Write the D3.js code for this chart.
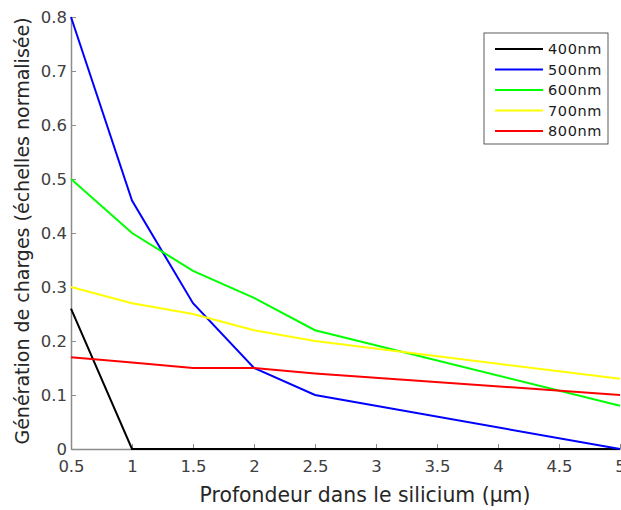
<!DOCTYPE html>
<html>
<head>
<meta charset="utf-8">
<script src="https://cdn.jsdelivr.net/npm/d3@7"></script>
<style>
  body { margin: 0; background: #fff; }
  text { font-family: "DejaVu Sans", Verdana, sans-serif; }
  .axis path, .axis line { stroke: #8c8c8c; }
  .axis text { fill: #404040; font-size: 16.5px; }
</style>
</head>
<body>
<script>
var svgWidth = 621;
var svgHeight = 510;

var margin = { top: 17, right: 1, bottom: 61, left: 71 };
var chartWidth = svgWidth - margin.left - margin.right;
var chartHeight = svgHeight - margin.top - margin.bottom;

// data
var depth = [0.5, 1, 1.5, 2, 2.5, 5];
var seriesNames = ["400nm", "500nm", "600nm", "700nm", "800nm"];
var seriesColors = ["#000000", "#0000ff", "#00ff00", "#ffff00", "#ff0000"];
var v400 = [0.26, 0, 0, 0, 0, 0];
var v500 = [0.8, 0.46, 0.27, 0.15, 0.10, 0];
var v600 = [0.5, 0.40, 0.33, 0.28, 0.22, 0.08];
var v700 = [0.30, 0.27, 0.25, 0.22, 0.20, 0.13];
var v800 = [0.17, 0.16, 0.15, 0.15, 0.14, 0.10];
var xTicks = [0.5, 1, 1.5, 2, 2.5, 3, 3.5, 4, 4.5, 5];
var yTicks = [0, 0.1, 0.2, 0.3, 0.4, 0.5, 0.6, 0.7, 0.8];

var allValues = [v400, v500, v600, v700, v800];

var svg = d3.select("body")
    .append("svg")
    .attr("width", svgWidth)
    .attr("height", svgHeight);

var chartGroup = svg.append("g")
    .attr("transform", `translate(${margin.left}, ${margin.top})`);

var xScale = d3.scaleLinear().domain([0.5, 5]).range([0, chartWidth]);
var yScale = d3.scaleLinear().domain([0, 0.8]).range([chartHeight, 0]);

var bottomAxis = d3.axisBottom(xScale)
    .tickValues(xTicks)
    .tickSizeInner(-5).tickSizeOuter(0).tickPadding(11)
    .tickFormat(d3.format("~g"));
var leftAxis = d3.axisLeft(yScale)
    .tickValues(yTicks)
    .tickSizeInner(-5).tickSizeOuter(0).tickPadding(4)
    .tickFormat(d3.format("~g"));

chartGroup.append("g")
    .classed("axis", true)
    .attr("transform", `translate(0, ${chartHeight})`)
    .call(bottomAxis)
    .call(g => g.select(".domain").attr("stroke-width", 1.5));

chartGroup.append("g")
    .classed("axis", true)
    .call(leftAxis)
    .call(g => g.select(".domain").attr("stroke-width", 1.5));

var line = d3.line()
    .x((d, i) => xScale(depth[i]))
    .y(d => yScale(d));

allValues.forEach(function(vals, k) {
    chartGroup.append("path")
        .datum(vals)
        .attr("fill", "none")
        .attr("stroke", seriesColors[k])
        .attr("stroke-width", 2)
        .attr("d", line);
});

// axis titles
chartGroup.append("text")
    .attr("transform", "rotate(-90)")
    .attr("x", -chartHeight / 2 + 2)
    .attr("y", -42)
    .attr("text-anchor", "middle")
    .attr("fill", "#262626")
    .style("font-size", "19px")
    .text("Génération de charges (échelles normalisée)");

chartGroup.append("text")
    .attr("x", 294)
    .attr("y", chartHeight + 53)
    .attr("text-anchor", "middle")
    .attr("fill", "#262626")
    .style("font-size", "20.4px")
    .text("Profondeur dans le silicium (µm)");

// legend
var legend = svg.append("g").attr("transform", "translate(484, 33)");
legend.append("rect")
    .attr("width", 124).attr("height", 111)
    .attr("fill", "#fff").attr("stroke", "#333").attr("stroke-width", 0.8);

var rows = legend.selectAll("g.row")
    .data(seriesNames)
    .enter()
    .append("g")
    .attr("class", "row")
    .attr("transform", (d, i) => `translate(0, ${16 + i * 20.5})`);

rows.append("line")
    .attr("x1", 11).attr("x2", 59)
    .attr("stroke", (d, i) => seriesColors[i])
    .attr("stroke-width", 2);

rows.append("text")
    .attr("x", 64).attr("y", 5)
    .attr("fill", "#1a1a1a")
    .style("font-size", "14.5px")
    .style("letter-spacing", "0.6px")
    .text(d => d);
</script>
</body>
</html>
